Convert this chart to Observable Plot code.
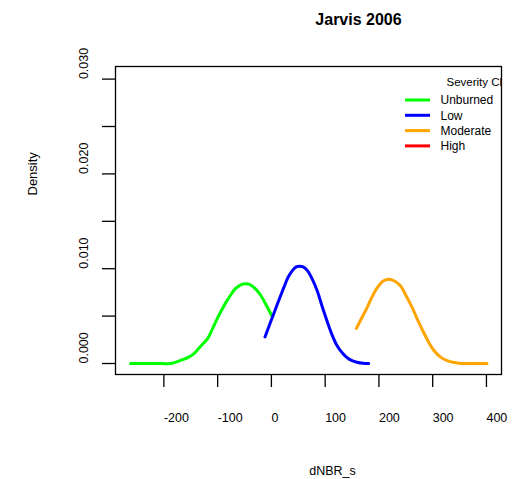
<!DOCTYPE html>
<html>
<head>
<meta charset="utf-8">
<script src="https://cdn.jsdelivr.net/npm/d3@7"></script>
<script src="https://cdn.jsdelivr.net/npm/@observablehq/plot@0.6"></script>
<style>
  html, body { margin: 0; padding: 0; background: #fff; }
  #chart svg { display: block; }
</style>
</head>
<body>
<div id="chart"></div>
<script>
// Density of dNBR_s by burn severity class, Jarvis 2006
const chartTitle = "Jarvis 2006";
const xTitle = "dNBR_s";
const yTitle = "Density";
const legendTitle = "Severity Class";

const severityClasses = ["Unburned", "Low", "Moderate", "High"];
const severityColors = ["#00ff00", "#0000ff", "#ffa500", "#ff0000"];

// Unburned
const unburnedX = [-262, -240, -215, -188, -175, -165, -153, -143, -135, -127, -119, -110, -101, -92, -84, -76, -67, -57, -48, -39, -30, -20, -10, 1];
const unburnedY = [0, 0, 0, 0, 0.0002, 0.0004, 0.0007, 0.0011, 0.0016, 0.0021, 0.0026, 0.0036, 0.0047, 0.0057, 0.0065, 0.0072, 0.0079, 0.0083, 0.0084, 0.0083, 0.0079, 0.0072, 0.0062, 0.0050];

// Low
const lowX = [-12, -4, 4, 14, 23, 31, 39, 46, 52, 59, 67, 76, 85, 94, 104, 113, 122, 132, 141, 150, 159, 170, 181];
const lowY = [0.0028, 0.0040, 0.0052, 0.0067, 0.0080, 0.0091, 0.0098, 0.0102, 0.01027, 0.0102, 0.0098, 0.0089, 0.0077, 0.0061, 0.0044, 0.0030, 0.0019, 0.0011, 0.0006, 0.0003, 0.00014, 0.00003, 0];

// Moderate
const moderateX = [158, 168, 178, 187, 197, 208, 219, 229, 240, 251, 262, 272, 283, 293, 302, 314, 327, 340, 352, 375, 401];
const moderateY = [0.0037, 0.0048, 0.0059, 0.0070, 0.0080, 0.0087, 0.0089, 0.0087, 0.0082, 0.0071, 0.0059, 0.0046, 0.0033, 0.0022, 0.0014, 0.0007, 0.0003, 0.0001, 0, 0, 0];

// Axis ticks
const xTicks = [-200, -100, 0, 100, 200, 300, 400];
const yTicks = [0, 0.005, 0.010, 0.015, 0.020, 0.025, 0.030];
const yLabels = [0, 0.010, 0.020, 0.030];

const series = [
  {name: "Unburned", xs: unburnedX, ys: unburnedY},
  {name: "Low", xs: lowX, ys: lowY},
  {name: "Moderate", xs: moderateX, ys: moderateY}
];
const curves = series.flatMap(s => s.xs.map((x, i) => ({severity: s.name, x, y: s.ys[i]})));

const W = 525, H = 479;
const font = "'Liberation Sans', Arial, Helvetica, sans-serif";

const plot = Plot.plot({
  width: W,
  height: H,
  marginLeft: 115,
  marginRight: 24,
  marginTop: 66,
  marginBottom: 105,
  style: {fontFamily: font, fontSize: "12px", color: "#000", background: "#fff", overflow: "visible"},
  x: {domain: [-290, 428]},
  y: {domain: [-0.00116, 0.03133]},
  color: {domain: severityClasses, range: severityColors},
  marks: [
    Plot.frame({stroke: "#000", strokeWidth: 1.3}),
    Plot.axisX({ticks: xTicks, tickSize: 13, tickPadding: 26, textAnchor: "start", tickFormat: d => String(d), label: null, strokeWidth: 1.3, fontSize: 12.5}),
    Plot.axisY({ticks: yTicks, tickSize: 13, tickFormat: () => "", label: null, strokeWidth: 1.3}),
    Plot.axisY({ticks: yLabels, tickSize: 0, tickPadding: 28, rotate: -90, textAnchor: "start", lineAnchor: "bottom",
      tickFormat: d => d.toFixed(3), label: null, fontSize: 12.5}),
    Plot.line(curves, {x: "x", y: "y", z: "severity", stroke: "severity", strokeWidth: 3, curve: "catmull-rom"}),
    Plot.text([chartTitle], {frameAnchor: "top", dx: 50, dy: -42, lineAnchor: "bottom", fontWeight: "bold", fontSize: 16, letterSpacing: 0.5}),
    Plot.text([xTitle], {frameAnchor: "bottom", dx: 24, dy: 100, lineAnchor: "bottom", fontSize: 12.5}),
    Plot.text([yTitle], {frameAnchor: "left", dx: -79, dy: -25, rotate: -90, lineAnchor: "bottom", fontSize: 13})
  ]
});

// Legend inside the plotting region, clipped to the frame
const svg = d3.select(plot);
const x0 = 115, x1 = W - 24, y0 = 66, y1 = H - 105;
svg.append("clipPath").attr("id", "plot-area-clip")
  .append("rect").attr("x", x0).attr("y", y0).attr("width", x1 - x0).attr("height", y1 - y0);
const legend = svg.append("g").attr("clip-path", "url(#plot-area-clip)")
  .attr("font-family", font).attr("font-size", 12).attr("text-anchor", "start");
legend.append("text").attr("x", 446.5).attr("y", 82).attr("dy", "0.35em").attr("font-size", 11.5).text(legendTitle);
severityClasses.forEach((name, i) => {
  const cy = 100 + i * 15.3;
  legend.append("line").attr("x1", 405).attr("x2", 430).attr("y1", cy).attr("y2", cy)
    .attr("stroke", severityColors[i]).attr("stroke-width", 3);
  legend.append("text").attr("x", 440.5).attr("y", cy).attr("dy", "0.35em").text(name);
});

document.getElementById("chart").append(plot);
</script>
</body>
</html>
